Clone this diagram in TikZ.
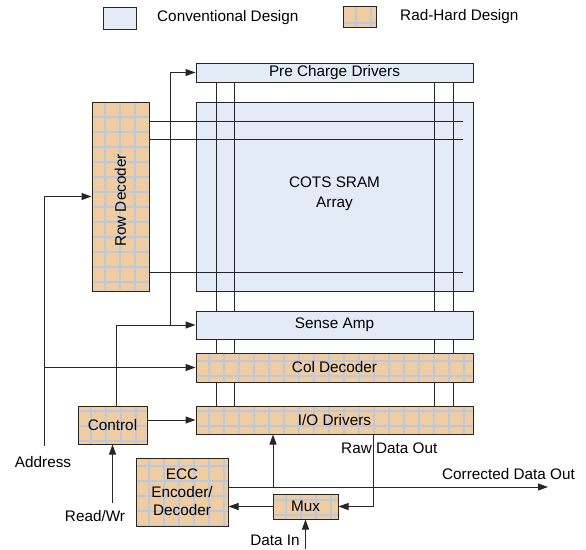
\documentclass[tikz,border=0pt]{standalone}
\usepackage{fontspec}
\setmainfont{Liberation Sans}
\usetikzlibrary{arrows.meta}
\definecolor{convc}{HTML}{E3EBF7}
\definecolor{radtan}{HTML}{F0CCA2}
\definecolor{gridc}{HTML}{BCC8DC}
\definecolor{bd}{HTML}{262626}
\pgfdeclarelayer{canvas}
\pgfdeclarelayer{back}
\pgfdeclarelayer{wires}
\pgfsetlayers{canvas,back,wires,main}
\begin{document}
\begin{tikzpicture}[x=1pt,y=-1pt,
  every node/.style={font=\fontsize{15.3}{18}\selectfont},
  box/.style={draw=bd,line width=1pt,rectangle,inner sep=0pt,align=center},
  conv/.style={box,fill=convc},
  gl/.style={draw=gridc,line width=1.8pt},
  rad/.style={box,fill=radtan,path picture={
    \foreach \gi in {0,...,30}{\draw[gl] ([xshift={13+15*\gi}]path picture bounding box.north west) -- ([xshift={13+15*\gi}]path picture bounding box.south west);}
    \foreach \gi in {0,...,13}{\draw[gl] ([yshift={-(#1)-15*\gi}]path picture bounding box.north west) -- ([yshift={-(#1)-15*\gi}]path picture bounding box.north east);}
  }},
  rad/.default=8,
  txt/.style={inner sep=0pt},
  wire/.style={draw=bd,line width=1pt},
  arr/.style={wire,-{Triangle[length=10pt,width=7pt]}},
]
\begin{pgfonlayer}{canvas}
\fill[white] (0,0) rectangle (586,549);
\end{pgfonlayer}
\useasboundingbox (0,0) rectangle (586,549);

% legend
\node[conv,minimum width=33,minimum height=22] (legc) at (119.5,18) {};
\node[txt,anchor=west] (legct) at (157,18) {Conventional Design};
\node[rad=17,minimum width=33,minimum height=21] (legr) at (359.5,16.5) {};
\node[txt,anchor=west] (legrt) at (400,17) {Rad-Hard Design};

% blocks
\node[conv,minimum width=277,minimum height=19] (pre) at (334.5,72.5) {Pre Charge Drivers};
\begin{pgfonlayer}{back}
\node[conv,minimum width=277,minimum height=189,label={[txt,align=center,yshift=3pt,font=\fontsize{15.3}{20}\selectfont]center:COTS SRAM\\Array}] (arr) at (334.5,196.5) {};
\end{pgfonlayer}
\node[rad=15,minimum width=57,minimum height=189,label={[txt,yshift=-4pt,rotate=90]center:Row Decoder}] (row) at (120.5,196.5) {};
\node[conv,minimum width=277,minimum height=28] (sense) at (334.5,325) {Sense Amp};
\node[rad=8,minimum width=277,minimum height=29] (col) at (334.5,367.5) {Col Decoder};
\node[rad=5,minimum width=277,minimum height=28] (io) at (334.5,420) {I/O Drivers};
\node[rad=5,minimum width=69,minimum height=38] (ctrl) at (112.5,425) {Control};
\node[rad=8,minimum width=92,minimum height=68] (ecc) at (182,492) {ECC\\Encoder/\\Decoder};
\node[rad=6,minimum width=65,minimum height=25] (mux) at (305.5,506.5) {Mux};

% text labels
\node[txt] (addr) at (43,462) {Address};
\node[txt] (rw) at (95,516) {Read/Wr};
\node[txt,anchor=west] (raw) at (341,448) {Raw Data Out};
\node[txt] (cdo) at (508.5,474) {Corrected Data Out};
\node[txt] (din) at (275,540) {Data In};

% free ends and junctions
\coordinate (addrB) at (44,446);
\coordinate (rwS) at (112.5,503);
\coordinate (cj) at (170,325);
\coordinate (outE) at (548,487);
\coordinate (ioIn) at (273,487);
\coordinate (rawT) at (373,434);
\coordinate (dinS) at (305.5,549);

% connectors
\draw[arr] (addrB) |- (row.west);
\draw[arr] (addrB |- col.west) -- (col.west);
\draw[arr] ([xshift=3.5]ctrl.north) |- (sense.west);
\draw[arr] (cj) |- (pre.west);
\draw[arr] (ctrl.east |- io.west) -- (io.west);
\draw[arr] (rwS) -- (ctrl.south);
\draw[arr] (ecc.east |- outE) -- (outE);
\draw[arr] (ioIn) -- (ioIn |- io.south);
\draw[arr] (rawT) |- (mux.east);
\draw[arr] (mux.west) -- (mux.west -| ecc.east);
\draw[arr] (dinS) -- (mux.south);

% bit lines and word lines
\begin{pgfonlayer}{wires}
\foreach \bx in {216,234,434,453}{\draw[wire] (pre.south -| \bx,0) -- (io.north -| \bx,0);}
\foreach \wy in {121,139,272}{\draw[wire] (row.east |- 0,\wy) -- (463,\wy);}
\end{pgfonlayer}
\end{tikzpicture}
\end{document}
